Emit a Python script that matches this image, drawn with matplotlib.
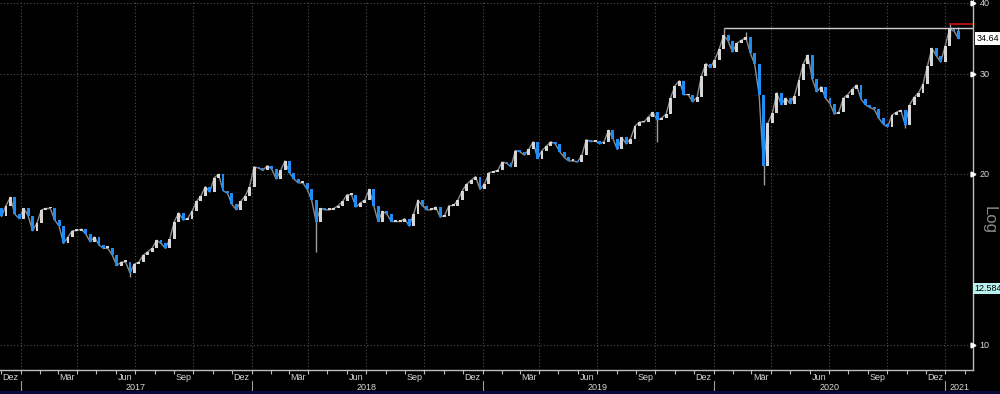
import numpy as np
import pandas as pd
import matplotlib
matplotlib.use("Agg")
import matplotlib.pyplot as plt
import matplotlib.dates as mdates
from matplotlib.ticker import NullLocator
from matplotlib.transforms import blended_transform_factory
from matplotlib.patches import Rectangle

plt.rcParams["font.family"] = ["Liberation Sans", "DejaVu Sans"]

# ---- data (weekly closes) -------------------------------------------------
first_week = "2016-12-02"
first_open = 17.4
closes = [
    16.85, 17.6, 18.2, 17.0, 16.7, 17.4, 16.9, 15.9, 16.4, 17.3,
    17.4, 17.4, 16.6, 16.2, 15.1, 15.5, 15.9, 15.9, 16.0, 15.7,
    15.2, 15.5, 15.0, 14.8, 14.8, 14.4, 13.8, 14.0, 14.0, 13.4,
    13.9, 14.0, 14.4, 14.6, 14.8, 15.3, 15.1, 14.8, 15.4, 16.5,
    17.1, 16.6, 16.7, 17.2, 17.9, 18.3, 19.0, 18.6, 19.7, 20.0,
    18.7, 18.5, 17.7, 17.3, 17.9, 18.3, 19.0, 20.6, 20.5, 20.3,
    20.7, 20.4, 19.6, 20.3, 21.1, 20.1, 19.6, 19.3, 19.3, 18.8,
    18.0, 16.5, 17.4, 17.3, 17.3, 17.4, 17.6, 17.9, 18.4, 18.4,
    17.5, 17.8, 18.0, 18.8, 17.6, 16.5, 17.2, 17.0, 16.5, 16.5,
    16.5, 16.7, 16.2, 17.0, 18.0, 17.6, 17.3, 17.3, 17.5, 16.8,
    16.9, 17.6, 17.6, 18.0, 18.7, 19.2, 19.5, 19.8, 18.8, 19.2,
    20.1, 20.2, 20.3, 21.0, 20.9, 20.6, 22.0, 21.9, 21.6, 22.1,
    22.8, 21.3, 22.0, 22.4, 22.8, 22.6, 21.9, 21.4, 21.1, 21.1,
    21.0, 21.6, 23.0, 22.8, 22.9, 22.6, 22.8, 23.9, 23.1, 22.1,
    23.2, 22.6, 23.1, 24.3, 24.7, 24.7, 25.2, 25.7, 24.9, 25.1,
    25.5, 27.2, 28.6, 29.2, 27.6, 27.6, 26.8, 27.3, 29.8, 31.3,
    30.8, 31.8, 33.2, 35.1, 34.3, 32.8, 34.0, 34.4, 34.8, 32.7,
    31.2, 27.6, 20.7, 24.6, 25.6, 27.8, 26.5, 27.2, 26.6, 27.5,
    29.3, 31.3, 32.4, 29.4, 27.9, 28.5, 27.2, 26.6, 25.5, 25.7,
    27.2, 27.6, 28.2, 28.7, 27.1, 26.5, 26.2, 26.0, 25.1, 24.5,
    24.2, 25.4, 25.7, 25.9, 24.4, 26.5, 27.3, 27.8, 28.8, 31.0,
    33.3, 32.3, 31.5, 33.6, 36.0, 35.7, 34.64,
]
# weeks whose wick sticks out well past the body
wick_weeks = [29, 71, 148, 163, 168, 172, 173, 204, 214, 216]
wick_ends = [13.2, 14.6, 22.8, 36.1, 35.6, 19.1, 23.4, 24.1, 36.7, 36.3]

prev_high = 36.1        # white level line
recent_high = 36.7      # red level line
last_price = 34.64
low_tag = 12.584
y_ticks = [10, 20, 30, 40]
month_names = {12: "Dez", 3: "Mär", 6: "Jun", 9: "Sep"}
years = [2017, 2018, 2019, 2020, 2021]

# ---- styling ---------------------------------------------------------------
BG = "black"
UP = "#d6d6d6"
DOWN = "#1f8cf5"
WICK = "#9a9a9a"
GRID = "#505050"
AXIS = "#bdbdbd"
TXT = "#d8d8d8"

W, H = 1000, 394
fig = plt.figure(figsize=(W / 100, H / 100), dpi=100, facecolor=BG)
ax = fig.add_axes([0, 1 - 370 / H, 973 / W, 370 / H], facecolor=BG)

dates = pd.date_range(first_week, periods=len(closes), freq="7D")
xd = mdates.date2num(dates)
c = np.array(closes)
o = np.concatenate([[first_open], c[:-1]])
bottom = np.minimum(o, c)
height = np.maximum(np.abs(c - o), 0.12)
colors = [UP if cc >= oo else DOWN for oo, cc in zip(o, c)]

ax.set_yscale("log")
x_left = mdates.date2num(pd.Timestamp("2016-11-29 14:00"))
x_right = mdates.date2num(pd.Timestamp("2021-02-14"))
ax.set_xlim(x_left, x_right)
ax.set_ylim(9.04, 40.5)

# grid
for q in pd.date_range("2017-01-01", "2021-01-01", freq="QS"):
    ax.axvline(mdates.date2num(q), color=GRID, lw=0.8, ls=(0, (1, 2)), zorder=0)
for v in y_ticks:
    ax.axhline(v, color=GRID, lw=0.8, ls=(0, (1, 2)), zorder=0)

# thin gray trace through the closes keeps the candles joined up
ax.plot(xd, c, color="#8c8c8c", lw=1.0, zorder=1)

# wicks then bodies
for i, e in zip(wick_weeks, wick_ends):
    lo, hi = sorted([e, bottom[i] + height[i] / 2])
    ax.vlines(xd[i], lo, hi, color=WICK, lw=1.0, zorder=1)
ax.bar(xd, height, bottom=bottom, width=4.6, color=colors, lw=0, zorder=2)

# level lines
ax.hlines(prev_high, xd[163], x_right, color="#cfcfcf", lw=1.0, zorder=3)
ax.hlines(recent_high, xd[214] - 1, x_right, color="#d01010", lw=1.2, zorder=3)

# axes frame
for s in ("top", "left"):
    ax.spines[s].set_visible(False)
for s in ("bottom", "right"):
    ax.spines[s].set_color(AXIS)
    ax.spines[s].set_linewidth(1.0)
ax.yaxis.set_major_locator(NullLocator())
ax.yaxis.set_minor_locator(NullLocator())
month_starts = pd.date_range("2016-12-01", "2021-02-01", freq="MS")
ax.set_xticks(mdates.date2num(month_starts))
ax.tick_params(axis="x", length=3, width=0.8, color=AXIS, direction="out",
               labelbottom=False)
ax.xaxis.set_minor_locator(NullLocator())

# right price scale
ytr = ax.get_yaxis_transform()
for v in y_ticks:
    ax.plot(1.0, v, marker=">", ms=3.5, color="white", transform=ytr,
            clip_on=False, zorder=5)
    ax.text(1.0065, v, str(v), transform=ytr, color=TXT, fontsize=6.5,
            va="center", ha="left", clip_on=False)
ax.text(1.017, 16.6, "Log", transform=ytr, color="#8a8a8a", fontsize=12,
        rotation=270, va="center", ha="center", clip_on=False)
ax.text(1.004, last_price, f"{last_price:.2f}", transform=ytr, color="black",
        fontsize=6.5, va="center", ha="left", clip_on=False,
        bbox=dict(boxstyle="square,pad=0.25", fc="white", ec="none"))
ax.text(1.001, low_tag, f"{low_tag:.3f}", transform=ytr, color="black",
        fontsize=6.5, va="center", ha="left", clip_on=False,
        bbox=dict(boxstyle="square,pad=0.15", fc="#b8f2ee", ec="none"))

# date strip under the chart
btr = blended_transform_factory(ax.transData, fig.transFigure)
for m in month_starts:
    if m.month in month_names and m <= pd.Timestamp("2020-12-01"):
        mid = mdates.date2num(m + pd.Timedelta(days=15))
        ax.text(mid, 1 - 377.5 / H, month_names[m.month], transform=btr,
                color=TXT, fontsize=6.5, ha="center", va="center",
                clip_on=False)
for yr in years:
    start = mdates.date2num(pd.Timestamp(f"{yr}-01-01"))
    ax.plot([start, start], [1 - 381 / H, 1 - 392 / H], transform=btr,
            color="#9a9a9a", lw=0.8, clip_on=False)
    if yr < 2021:
        mid = mdates.date2num(pd.Timestamp(f"{yr}-07-02"))
    else:
        mid = (start + x_right) / 2
    ax.text(mid, 1 - 387 / H, str(yr), transform=btr, color=TXT,
            fontsize=6.5, ha="center", va="center", clip_on=False)

fig.patches.append(Rectangle((0, 0), 1, 3 / H, transform=fig.transFigure,
                             fc="#0c0c3c", ec="none"))

fig.savefig("out.png", dpi=100, facecolor=BG)
